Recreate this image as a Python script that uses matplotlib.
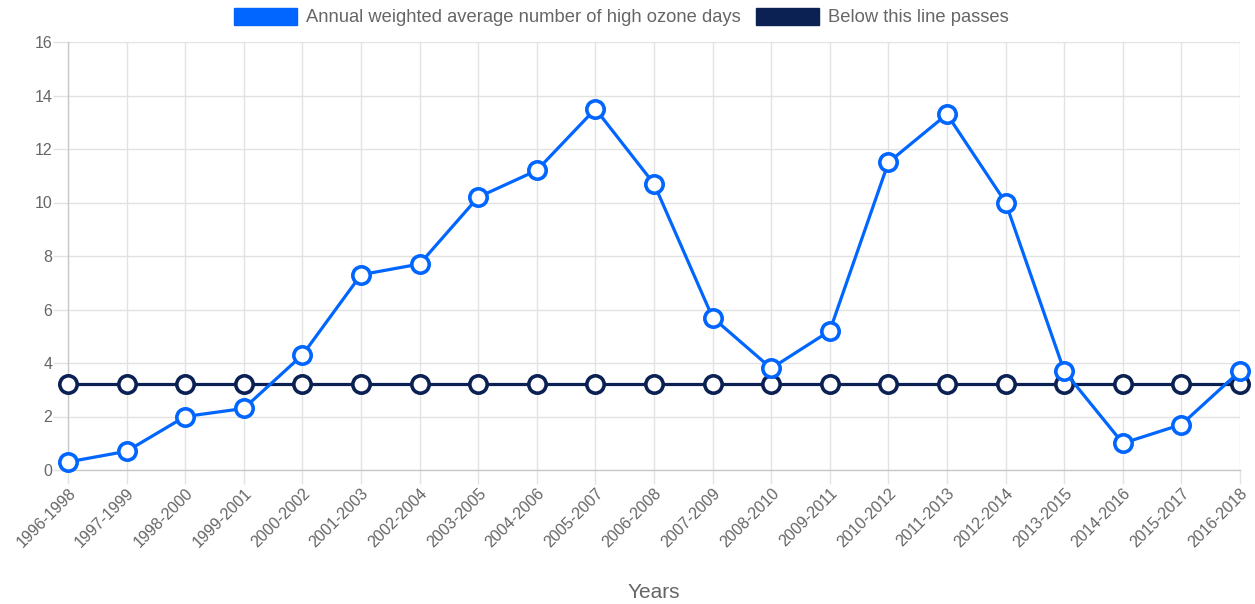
import matplotlib
matplotlib.use("Agg")
import matplotlib.pyplot as plt
from matplotlib.patches import Patch

categories = ["1996-1998", "1997-1999", "1998-2000", "1999-2001", "2000-2002",
              "2001-2003", "2002-2004", "2003-2005", "2004-2006", "2005-2007",
              "2006-2008", "2007-2009", "2008-2010", "2009-2011", "2010-2012",
              "2011-2013", "2012-2014", "2013-2015", "2014-2016", "2015-2017",
              "2016-2018"]
ozone_days = [0.3, 0.7, 2.0, 2.3, 4.3, 7.3, 7.7, 10.2, 11.2, 13.5, 10.7,
              5.7, 3.8, 5.2, 11.5, 13.3, 10.0, 3.7, 1.0, 1.7, 3.7]
threshold = [3.2] * len(categories)
y_ticks = [0, 2, 4, 6, 8, 10, 12, 14, 16]

series_labels = ["Annual weighted average number of high ozone days",
                 "Below this line passes"]
x_title = "Years"

BLUE = "#0066ff"
NAVY = "#0b2154"
TEXT = "#666666"
GRID = "#e2e2e2"

plt.rcParams["font.family"] = ["Liberation Sans", "DejaVu Sans"]

fig = plt.figure(figsize=(12.55, 6.04), dpi=100)
ax = fig.add_axes([68 / 1255, (604 - 470) / 604, (1240 - 68) / 1255, (470 - 42) / 604])

x = list(range(len(categories)))
ax.plot(x, threshold, color=NAVY, lw=2.3, marker="o", ms=12.5,
        mfc="white", mec=NAVY, mew=2.6, zorder=3, clip_on=False)
ax.plot(x, ozone_days, color=BLUE, lw=2.3, marker="o", ms=12.5,
        mfc="white", mec=BLUE, mew=2.6, zorder=4, clip_on=False)

ax.set_xlim(0, len(categories) - 1)
ax.set_ylim(0, 16)
ax.set_yticks(y_ticks)
ax.set_xticks(x)
ax.set_xticklabels(categories, rotation=45, ha="right", rotation_mode="anchor")

ax.grid(True, color=GRID, lw=1)
ax.set_axisbelow(True)
for s in ["top", "right"]:
    ax.spines[s].set_visible(False)
for s in ["left", "bottom"]:
    ax.spines[s].set_color("#c8c8c8")
    ax.spines[s].set_linewidth(1)

ax.tick_params(axis="y", colors=GRID, labelcolor=TEXT, labelsize=11.5,
               length=10.8, width=1, pad=0.5)
ax.tick_params(axis="x", colors=GRID, labelcolor=TEXT, labelsize=11.5,
               length=10, width=1, pad=1)

fig.text(654 / 1255, 1 - 593 / 604, x_title, color=TEXT, fontsize=15,
         ha="center", va="center")

handles = [Patch(facecolor=BLUE, edgecolor=BLUE),
           Patch(facecolor=NAVY, edgecolor=NAVY)]
leg = fig.legend(handles, series_labels, loc="center", ncol=2,
                 bbox_to_anchor=(621.5 / 1255, 1 - 17 / 604), frameon=False,
                 fontsize=13.2, handlelength=3.44, handleheight=1.09,
                 handletextpad=0.49, columnspacing=0.82, labelcolor=TEXT,
                 borderpad=0, borderaxespad=0)

fig.savefig("out.png", dpi=100)
